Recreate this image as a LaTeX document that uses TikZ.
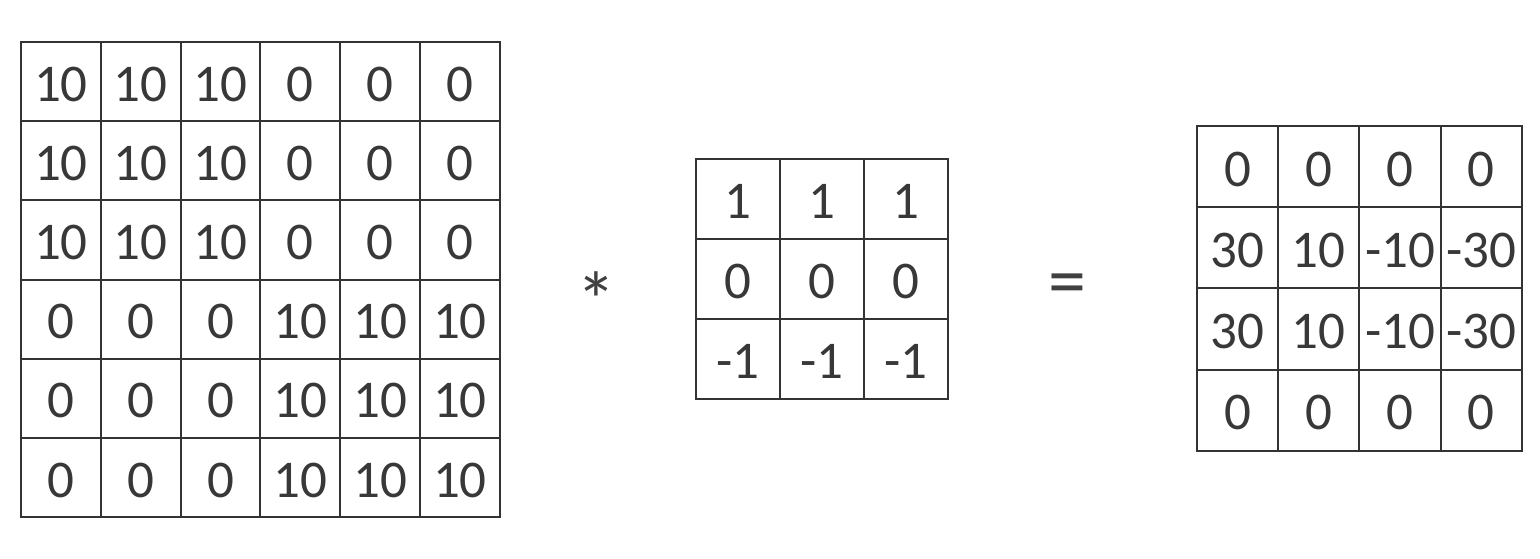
\documentclass[tikz,border=0pt]{standalone}
\usepackage{fontspec}
\setmainfont{Carlito}
\begin{document}
\begin{tikzpicture}[x=0.5pt,y=-0.5pt,
  cell/.style={draw=black!80, line width=1pt, inner sep=0pt, outer sep=0pt},
  txt/.style={inner sep=0pt, yshift=-1.2pt, font=\fontsize{26.5}{26.5}\selectfont, text=black!78},
  sym/.style={inner sep=0pt, text=black!75}]
\useasboundingbox[fill=white] (0,0) rectangle (1540,558);
% input 6x6
\foreach \row [count=\r] in {{10,10,10,0,0,0},{10,10,10,0,0,0},{10,10,10,0,0,0},{0,0,0,10,10,10},{0,0,0,10,10,10},{0,0,0,10,10,10}}{
  \foreach \v [count=\c] in \row {
    \node[cell, minimum width=39.9pt, minimum height=39.6pt] (A-\r-\c) at ({21+79.8*(\c-0.5)},{42+79.2*(\r-0.5)}) {};
    \node[txt] at (A-\r-\c) {\v};
  }
}
% kernel 3x3
\foreach \row [count=\r] in {{1,1,1},{0,0,0},{-1,-1,-1}}{
  \foreach \v [count=\c] in \row {
    \node[cell, minimum width=42pt, minimum height=40pt] (K-\r-\c) at ({696+84*(\c-0.5)},{159+80*(\r-0.5)}) {};
    \node[txt] at (K-\r-\c) {\v};
  }
}
% output 4x4
\foreach \row [count=\r] in {{0,0,0,0},{30,10,-10,-30},{30,10,-10,-30},{0,0,0,0}}{
  \foreach \v [count=\c] in \row {
    \node[cell, minimum width=40.6pt, minimum height=40.6pt] (O-\r-\c) at ({1197+81.2*(\c-0.5)},{126+81.2*(\r-0.5)}) {};
    \node[txt] at (O-\r-\c) {\v};
  }
}
\node[sym, font=\fontsize{40}{40}\selectfont] (star) at (596,300) {*};
\node[sym, font=\fontsize{38}{38}\selectfont] (eq) at (1067,290) {=};
\end{tikzpicture}
\end{document}
